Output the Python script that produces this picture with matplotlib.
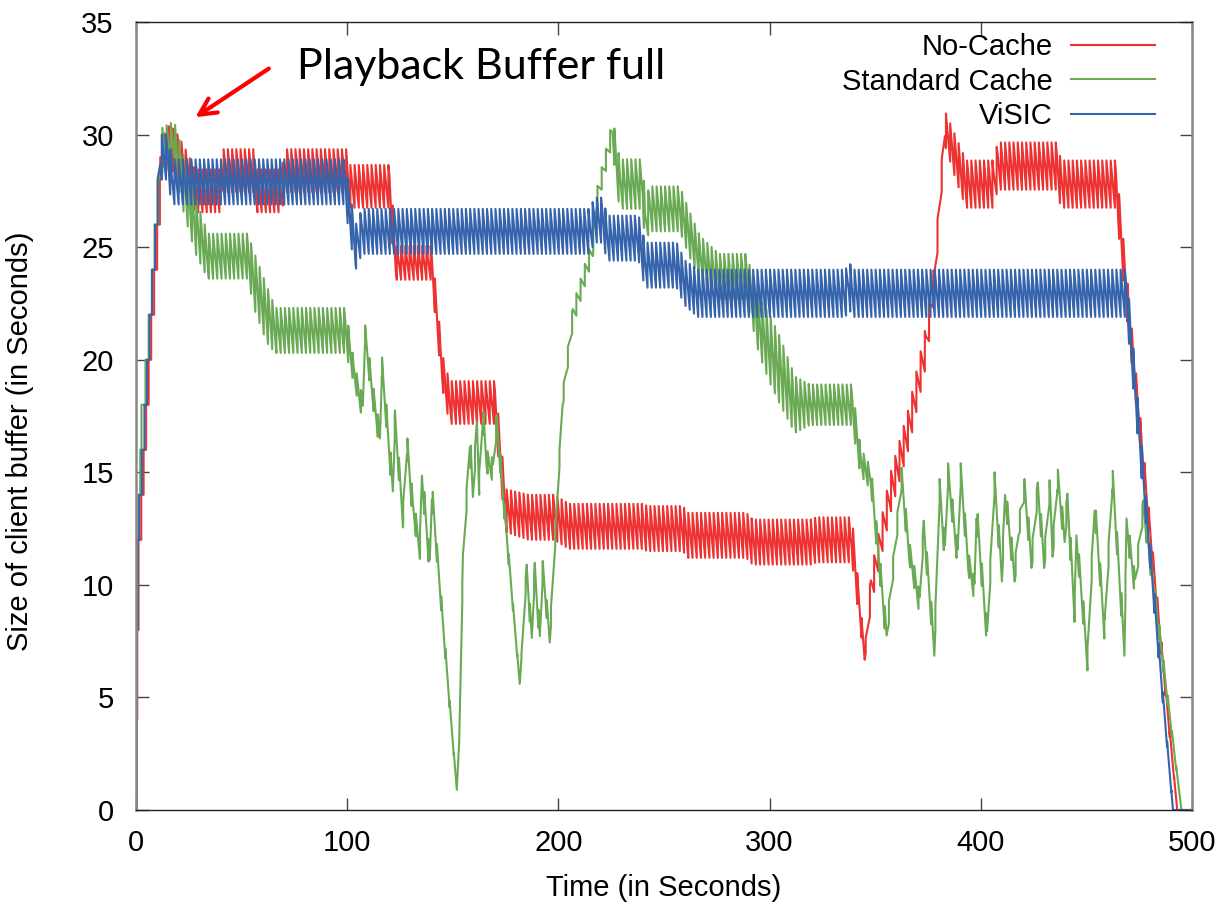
import numpy as np
import matplotlib
matplotlib.use("Agg")
import matplotlib.pyplot as plt

plt.rcParams['font.family'] = ['Liberation Sans', 'DejaVu Sans']

# --- start-up phase: (time a segment lands, buffer level after it) ---
nocache_start_t = [0.3, 0.6, 1.2, 2.5, 3.6, 4.8, 6.0, 7.2, 8.6, 10.0, 11.3]
nocache_start_v = [4, 8, 12, 14, 16, 18, 20, 22, 24, 26, 28]
std_start_t = [0.2, 0.4, 0.8, 1.2, 2.0, 2.6, 4.5, 6.0, 7.5, 8.8, 10.5]
std_start_v = [4, 8, 12, 14, 16, 18, 20, 22, 24, 26, 28]
visic_start_t = [0.2, 0.4, 0.8, 1.5, 2.8, 4.0, 5.2, 6.4, 7.6, 9.0, 10.2]
visic_start_v = [4, 8, 12, 14, 16, 18, 20, 22, 24, 26, 28]

# --- playback phase: buffer centre level and segment tooth height ---
nocache_t = [11.5, 13.5, 16, 20, 24, 28, 40, 41.5, 55.5, 57, 69, 70.5, 99.5, 101,
             120, 123, 140, 145, 148.5, 170, 175, 186, 198, 205, 240, 242, 259, 261,
             289, 292, 320, 322, 339, 345, 348, 357, 366, 374, 378, 381, 383, 388, 393, 406,
             408, 436, 438, 464, 493, 500]
nocache_v = [28.5, 29.3, 29.5, 29, 28.3, 27.5, 27.5, 28.4, 28.4, 27.5, 27.5, 28.4, 28.4, 27.7,
             27.7, 24.3, 24.3, 19.5, 18.1, 18.1, 13.3, 13.0, 13.0, 12.6, 12.6, 12.5, 12.5, 12.2,
             12.2, 11.9, 11.9, 12.0, 12.0, 6.8, 9.8, 14.0, 17.0, 20.6, 23.5, 27.5, 30.3, 29.0,
             27.8, 27.8, 28.6, 28.6, 27.8, 27.8, 0, 0]
nocache_h = [1, 1.5, 1.9, 1.9, 1.9, 1.9, 1.9, 1.9, 1.9, 1.9, 1.9, 1.9, 1.9, 1.9,
             1.9, 1.5, 1.5, 1.5, 1.9, 1.9, 1.9, 2.0, 2.0, 2.0, 2.0, 2.0, 2.0, 2.0,
             2.0, 2.0, 2.0, 2.0, 2.0, 0.5, 1.6, 1.8, 1.8, 1.8, 1.6, 1.4, 1.5, 1.9,
             2.1, 2.1, 2.1, 2.1, 2.1, 2.1, 0, 0]

std_t = [10.5, 12.5, 18, 22, 28, 34, 53, 56, 62, 66, 99, 101,
         103, 106, 107.4, 108.4, 112, 115.5, 116.4, 119, 121.6, 122.6, 126.4, 128.3, 131,
         134.4, 135.4, 139.1, 140.1, 151.9, 153, 154.8, 158.1, 159.5, 161.4, 162.5, 164.2,
         166, 169, 170.8, 181.7, 185, 187.4, 188.8, 191.2, 192.6, 195.9, 197, 202, 206.8,
         216.3, 218.2, 225.7, 227, 229, 240, 241, 243, 257.5, 262, 267, 276, 289, 295,
         300, 305, 312, 319, 339, 343, 348, 355.4, 362.5, 366, 371, 373, 378, 380.5,
         383, 384.5, 389, 390.5, 394, 397, 398, 403, 406.5, 410, 411.5, 416, 418,
         420.7, 424, 427, 430, 432.6, 434, 436.4, 439.7, 441, 444.4, 445.3, 450.5,
         453.9, 458.6, 462.4, 468, 469, 473, 477, 479, 495, 500]
std_v = [28, 29.3, 29.6, 28, 26, 24.6, 24.6, 23.5, 22, 21.3, 21.3, 20.5,
         19.5, 18.3, 17.9, 21.1, 18.5, 16.5, 19.7, 17, 14.2, 17.3, 13, 16.2, 13.5,
         11.6, 14.8, 10.9, 14.1, 0.9, 3, 11, 16.4, 13.9, 17.2, 14.5, 17.5,
         15.5, 15.1, 17.2, 5.6, 10.7, 7.6, 10.7, 7.6, 10.7, 7.6, 9.5, 18.2, 21.9,
         25, 27.1, 30.2, 29, 27.8, 27.8, 26, 26.7, 26.7, 25.6, 24.5, 23.7, 23.7, 21.5,
         20.5, 19.5, 18, 18, 18, 15.5, 14.7, 7.7, 14.7, 11.5, 9.2, 12.6, 7.1, 14.2,
         11.5, 14.9, 11.3, 14.9, 11, 9.8, 13.2, 7.7, 14.5, 10.4, 14, 10.4, 12.5,
         14.3, 11, 14.3, 11, 14.2, 11.5, 14.7, 12, 13.8, 8.8, 12.1, 6.7,
         13.5, 8, 14.7, 7.1, 12.7, 10, 13.5, 12, 0, 0]
std_h = [0, 2, 2, 2.5, 2.5, 2, 2, 2.5, 2.5, 2, 2, 1.5,
         1, 1, 1, 1, 1, 1, 1, 1, 1, 1, 1, 1, 1,
         1, 1, 1, 1, 0, 0, 1, 1, 1, 1, 1, 1,
         1, 1, 1, 0, 0.8, 0.8, 0.8, 0.8, 0.8, 0.8, 0.8, 0.8, 1,
         1, 1, 1, 2, 2.2, 2.2, 2, 2, 2, 2, 2, 2, 2, 2.5,
         3, 3, 2.5, 1.8, 1.8, 1.2, 1, 1, 1, 1, 1, 1, 1, 1,
         1, 1, 1, 1, 1, 1, 1, 1, 1, 1, 1, 1, 1,
         1, 1, 1, 1, 1, 1, 1, 1, 1, 1, 1, 1,
         1, 1, 1, 1, 1, 1, 1, 1, 0, 0]

visic_t = [10.2, 11.5, 15, 17, 99, 101, 104, 107, 215, 217, 221, 223, 238, 241, 256,
           260, 266, 336, 337.5, 339, 469, 491, 500]
visic_v = [28, 29, 29, 27.9, 27.9, 26.5, 25.0, 25.7, 25.7, 26.2, 26.2, 25.4, 25.4, 24.2, 24.2,
           23.4, 22.95, 22.95, 23.4, 22.95, 22.95, 0, 0]
visic_h = [0, 2, 2, 2, 2, 2, 2, 2, 2, 2, 2, 2, 2, 2, 2,
           2, 2.1, 2.1, 2.1, 2.1, 2.1, 0, 0]

SEG = 2.0  # seconds of video per downloaded segment


def startup(ts, vs):
    x, y = [0.0], [0.0]
    for t, v in zip(ts, vs):
        x += [t, t]
        y += [y[-1], v]
    return x, y


def playback(kt, kv, kh):
    # buffer jumps by one segment on arrival, then drains while playing
    kt = np.asarray(kt, float)
    grid = kt[0] + SEG * np.arange(int((kt[-1] - kt[0]) // SEG) + 1)
    xs, ys = [], []
    for t in np.union1d(grid, kt):
        c = np.interp(t, kt, kv)
        h = np.interp(t, kt, kh)
        r = (t - kt[0]) / SEG
        k = np.round(r)
        on_grid = abs(r - k) < 1e-6
        ph = 0.0 if on_grid else r - np.floor(r)
        if on_grid and h > 0:
            xs += [t, t]
            ys += [c - h / 2, c + h / 2]
        else:
            xs.append(t)
            ys.append(c + h * (0.5 - ph))
    return xs, ys


def series(st, sv, kt, kv, kh):
    x0, y0 = startup(st, sv)
    x1, y1 = playback(kt, kv, kh)
    return x0 + x1, y0 + y1


fig = plt.figure(figsize=(12.23, 9.10), dpi=100)
ax = fig.add_axes([136 / 1223, 100 / 910, (1192 - 136) / 1223, (810 - 22) / 910])

red, green, blue = '#ee3131', '#6aaa55', '#3564ad'
ax.plot(*series(nocache_start_t, nocache_start_v, nocache_t, nocache_v, nocache_h),
        color=red, lw=1.5, label='No-Cache')
ax.plot(*series(std_start_t, std_start_v, std_t, std_v, std_h),
        color=green, lw=1.5, label='Standard Cache')
ax.plot(*series(visic_start_t, visic_start_v, visic_t, visic_v, visic_h),
        color=blue, lw=1.5, label='ViSIC')

ax.set_xlim(0, 500)
ax.set_ylim(0, 35)
ax.set_xticks(range(0, 501, 100))
ax.set_yticks(range(0, 36, 5))
ax.tick_params(direction='in', length=9, width=1, top=True, right=True,
               labelsize=21, colors='#444444', labelcolor='black')
ax.tick_params(axis='y', pad=16)
ax.tick_params(axis='x', pad=14)
for side in ['left', 'right']:
    ax.spines[side].set_color('#888888')
    ax.spines[side].set_linewidth(1.8)
for side in ['top', 'bottom']:
    ax.spines[side].set_color('#222222')
    ax.spines[side].set_linewidth(1.0)

ax.set_xlabel('Time (in Seconds)', fontsize=21, labelpad=12)
ax.set_ylabel('Size of client buffer (in Seconds)', fontsize=21)
ax.yaxis.set_label_coords(-0.097, 0.468)

ax.legend(loc='upper right', bbox_to_anchor=(0.982, 1.008), frameon=False,
          markerfirst=False, fontsize=21, handlelength=2.9, handletextpad=0.62,
          labelspacing=0.22, borderaxespad=0.2)

ax.annotate('', xy=(27, 30.7), xytext=(64, 33.0),
            arrowprops=dict(arrowstyle='->', color='#ff0000', lw=3, mutation_scale=30))
ax.text(76, 33.0, 'Playback Buffer full', fontsize=31, family=['Lato', 'DejaVu Sans'],
        va='center', ha='left')

fig.savefig('out.png', dpi=100)
